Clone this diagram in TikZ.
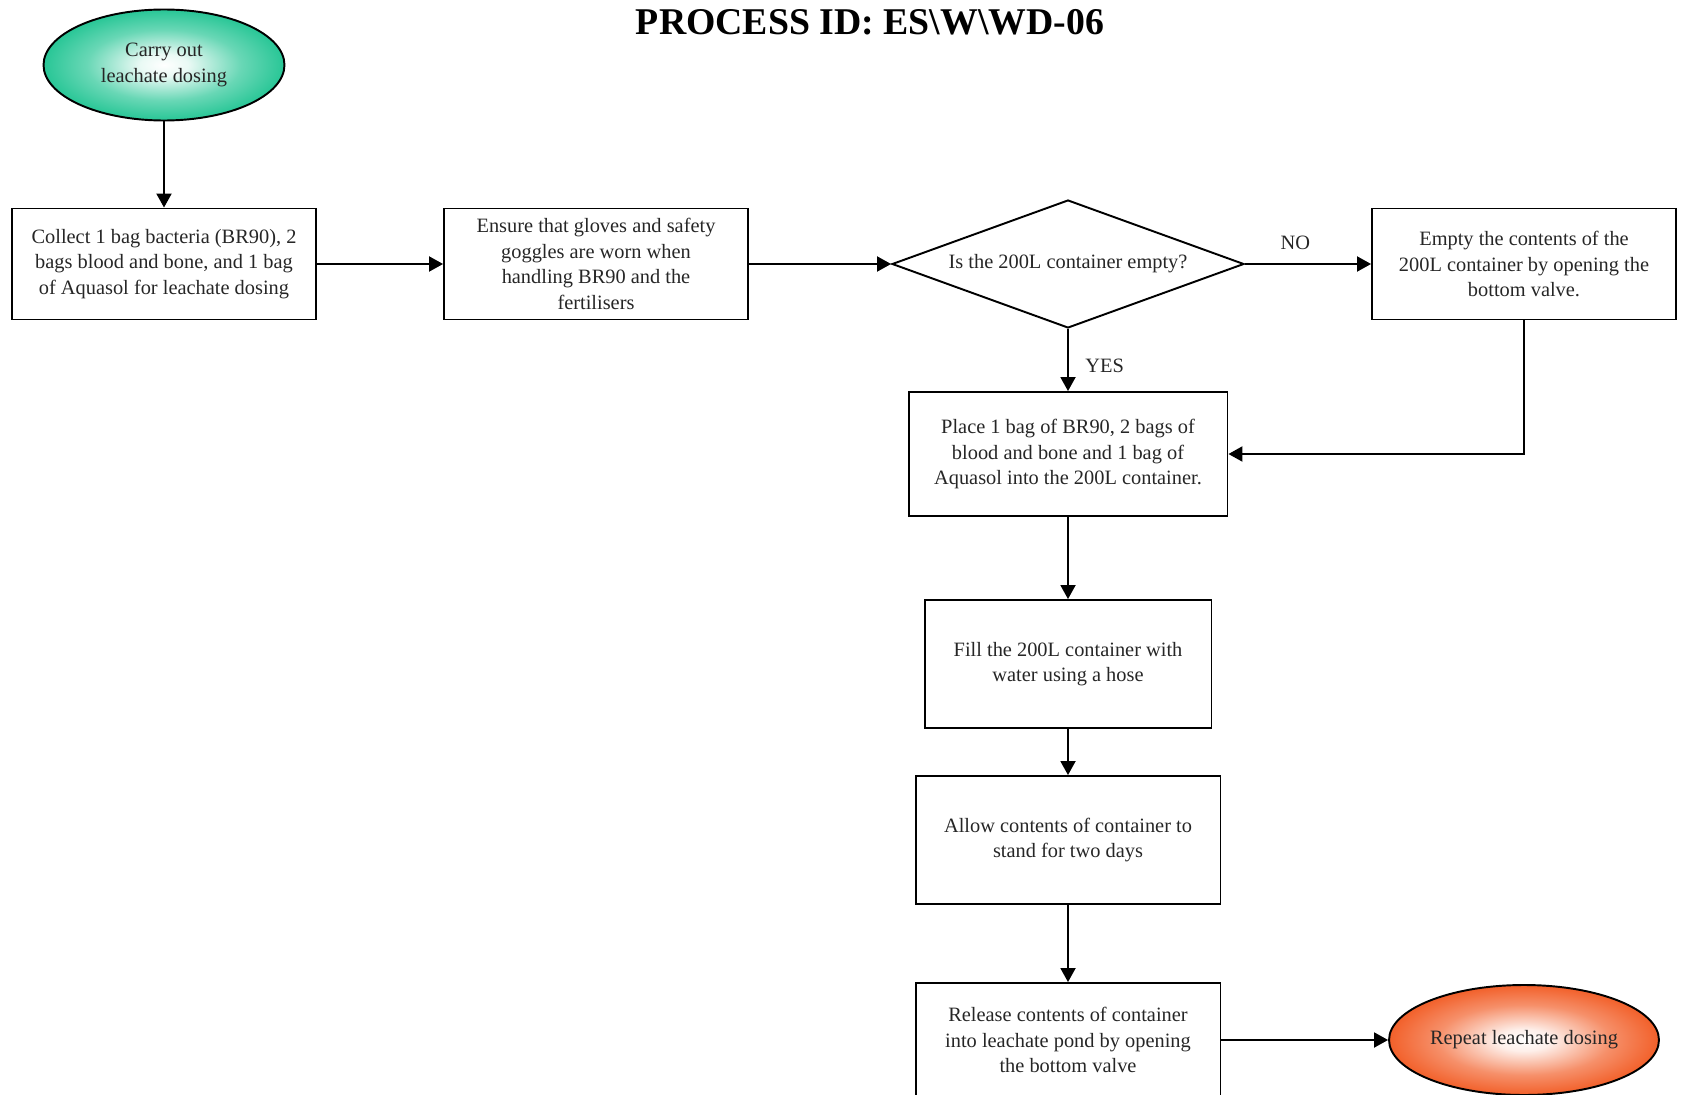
\documentclass[tikz,border=0pt]{standalone}
\usepackage{fontspec}
\setmainfont{Liberation Serif}
\usetikzlibrary{shapes.geometric,arrows.meta}

\definecolor{startgreen}{RGB}{40,198,150}
\definecolor{endorange}{RGB}{242,96,42}

% soft glow for the two terminal ellipses
\pgfdeclareradialshading{startglow}{\pgfpoint{0bp}{0bp}}{color(0bp)=(white); color(5bp)=(white!90!startgreen); color(16bp)=(startgreen!70!white); color(25bp)=(startgreen); color(50bp)=(startgreen)}
\pgfdeclareradialshading{endglow}{\pgfpoint{0bp}{0bp}}{color(0bp)=(white); color(5bp)=(white!90!endorange); color(16bp)=(endorange!70!white); color(25bp)=(endorange); color(50bp)=(endorange)}

\begin{document}
\begin{tikzpicture}[x=0.02cm,y=-0.02cm,
	every node/.style={font=\fontsize{11.6}{14.6}\selectfont, align=center, text=black!85},
	stepbox/.style={draw, rectangle, line width=1.1pt, inner sep=2pt},
	terminal/.style={draw, ellipse, line width=1.1pt, inner sep=0pt},
	flow/.style={line width=1.1pt, -{Triangle[length=0.28cm,width=0.3cm]}}]
	
	\clip (0,0) rectangle (1681,1095);
	
	% Title
	\node[font=\fontsize{21.5}{24}\selectfont\bfseries, text=black] (title) at (870,22) {PROCESS ID: ES\textbackslash W\textbackslash WD-06};
	
	% Start and end ellipses
	\node[terminal, shading=startglow, minimum width=4.82cm, minimum height=2.22cm] (start) at (164,65) {Carry out\\leachate dosing};
	\node[terminal, shading=endglow, minimum width=5.4cm, minimum height=2.2cm] (repeat) at (1524,1040) {Repeat leachate dosing};
	
	% Top row
	\node[stepbox, minimum width=6.08cm, minimum height=2.22cm] (collect) at (164,264) {Collect 1 bag bacteria (BR90), 2\\bags blood and bone, and 1 bag\\of Aquasol for leachate dosing};
	\node[stepbox, minimum width=6.08cm, minimum height=2.22cm] (gloves) at (596,264) {Ensure that gloves and safety\\goggles are worn when\\handling BR90 and the\\fertilisers};
	\node[draw, diamond, line width=1.1pt, aspect=2.75, inner sep=0pt, minimum width=7.04cm, minimum height=2.56cm] (empty) at (1068,264) {Is the 200L container empty?};
	\node[stepbox, minimum width=6.08cm, minimum height=2.22cm] (drain) at (1524,264) {Empty the contents of the\\200L container by opening the\\bottom valve.};
	
	% Centre column
	\node[stepbox, minimum width=6.38cm, minimum height=2.48cm] (place) at (1068,454) {Place 1 bag of BR90, 2 bags of\\blood and bone and 1 bag of\\Aquasol into the 200L container.};
	\node[stepbox, minimum width=5.74cm, minimum height=2.56cm] (fill) at (1068,664) {Fill the 200L container with\\water using a hose};
	\node[stepbox, minimum width=6.1cm, minimum height=2.56cm] (stand) at (1068,840) {Allow contents of container to\\stand for two days};
	\node[stepbox, minimum width=6.1cm, minimum height=2.28cm] (release) at (1068,1040) {Release contents of container\\into leachate pond by opening\\the bottom valve};
	
	% Connectors
	\draw[flow] (start) -- (collect);
	\draw[flow] (collect) -- (gloves);
	\draw[flow] (gloves) -- (empty);
	\draw[flow] (empty) -- node[pos=0.4, above=4pt] {NO} (drain);
	\draw[flow] (empty) -- node[pos=0.6, right=6pt] {YES} (place);
	\draw[flow] (drain.south) |- (place.east);
	\foreach \a/\b in {place/fill, fill/stand, stand/release}
		\draw[flow] (\a) -- (\b);
	\draw[flow] (release) -- (repeat);
	
\end{tikzpicture}
\end{document}
